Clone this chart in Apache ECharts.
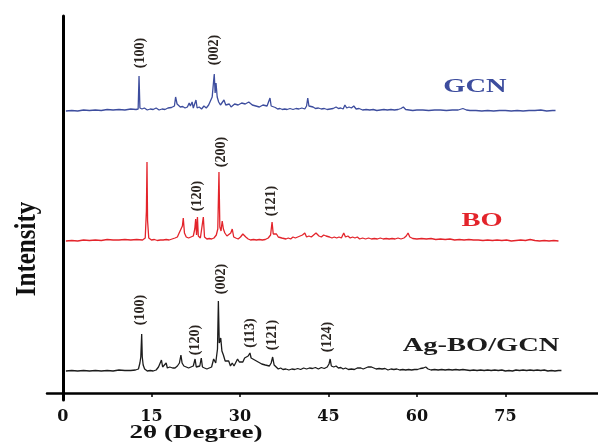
<!DOCTYPE html>
<html>
<head>
<meta charset="utf-8">
<script src="https://cdn.jsdelivr.net/npm/echarts@6/dist/echarts.min.js"></script>
<style>
  html, body { margin: 0; padding: 0; background: #fff; }
  #chart { width: 598px; height: 444px; }
</style>
</head>
<body>
<div id="chart"></div>
<script>
// x tick labels
var xTicks = [0, 15, 30, 45, 60, 75];

// patterns: [2theta, intensity above own baseline]
var gcnData = [
  [0.5,0],[1.5,0.5],[2.5,0],[3.5,1],[4.5,0.5],[5.5,1],[6.5,0.5],[7.5,1.5],[8.5,1],[9.5,1.5],[10.5,1],
  [11.5,2],[12.4,1.5],[12.75,2],[12.9,35],[13.05,3],[13.4,2],[13.8,3],[14.3,1],[14.8,2],[15.3,1.5],
  [15.8,3],[16.3,1],[16.8,2],[17.3,1.5],[17.8,3],[18.4,3.5],[18.9,5],[19.1,14],[19.35,7],[19.6,8],
  [19.9,4],[20.3,4.5],[20.7,3],[21.1,4],[21.4,8],[21.6,5],[21.9,9],[22.1,3],[22.3,4],[22.55,11],
  [22.75,3],[23.1,4],[23.5,2],[23.9,5],[24.3,3],[24.7,6],[25.0,5],[25.3,14],[25.5,12],[25.65,37],
  [25.8,18],[25.95,28],[26.15,14],[26.4,9],[26.7,6],[27.0,8],[27.3,11],[27.6,6],[27.9,5],[28.2,7],
  [28.5,4],[28.8,5],[29.1,7],[29.4,5],[29.7,6],[30.0,5],[30.3,8],[30.6,6],[30.9,7],[31.2,5],[31.5,9],
  [31.8,7],[32.1,6],[32.4,8],[32.7,5],[33.0,7],[33.3,4],[33.6,5],[33.9,6],[34.2,4],[34.6,5],[34.9,4],
  [35.1,13],[35.3,5],[35.6,3],[36.0,3.5],[36.4,2],[36.8,2.5],[37.2,1.5],[37.6,2],[38.0,1.5],[38.5,2.5],
  [39,1.5],[39.5,2.5],[40,2],[40.5,3],[41,2],[41.3,5],[41.5,13],[41.7,5],[42,3],[42.4,4],[42.8,2.5],
  [43.3,3],[43.8,2],[44.3,2.5],[44.8,1.5],[45.3,2],[45.8,2.5],[46.3,4],[46.7,2.5],[47.1,3],[47.5,2],
  [47.8,6],[48.1,3],[48.5,4],[48.9,3],[49.3,5],[49.7,2],[50.2,2.5],[50.8,1],[51.4,1.5],[52,1],
  [52.6,1.5],[53.2,0.5],[53.8,1],[54.4,1.5],[55,1],[55.6,1.5],[56.2,1],[56.8,1.5],[57.3,2.5],[57.7,4],
  [58.1,1.5],[58.7,1],[59.3,0.5],[60,1],[61,1],[62,0.5],[63,1],[64,1],[65,0.5],[66,1],[67,1],
  [67.8,2.5],[68.4,1],[69,0.5],[70,0.5],[71,0],[72,0.5],[73,0],[74,0.5],[75,0.5],[76,0],[77,0.5],
  [78,0],[79,0.5],[80,0.5],[81,1],[82,0],[83,0.5],[83.5,0.5]
];
var boData = [
  [0.5,0],[1.5,0.5],[2.5,0],[3.5,1],[4.5,0.5],[5.5,1],[6.5,0.5],[7.5,1.5],[8.5,1],[9.5,1],[10.5,1.5],
  [11.5,1],[12.5,1.5],[13.5,1],[13.95,3],[14.15,30],[14.25,79],[14.35,20],[14.55,3],[15,1],[15.5,1.5],
  [16,0.5],[16.5,1],[17,1],[17.5,1.5],[18,1],[18.5,2],[19,3],[19.4,4],[19.7,8],[20.0,6],[20.25,15],
  [20.4,23],[20.6,8],[20.9,4],[21.3,3],[21.7,4],[22.1,5],[22.35,12],[22.5,22],[22.65,6],[22.8,24],
  [22.95,5],[23.3,3],[23.6,5],[23.8,24],[24.0,4],[24.4,2],[24.8,2.5],[25.2,2],[25.6,3],[26.0,6],
  [26.25,12],[26.45,69],[26.6,14],[26.8,10],[27.0,20],[27.2,12],[27.45,8],[27.8,5],[28.1,4],[28.45,8],
  [28.7,12],[28.95,4],[29.3,3],[29.7,2],[30.1,4],[30.5,7],[30.7,8],[31,4],[31.4,2],[31.8,1],[32.3,1.5],
  [32.8,1],[33.3,1.5],[33.8,1],[34.3,1.5],[34.8,3],[35.2,6],[35.45,19],[35.65,7],[35.9,5],[36.2,7],
  [36.5,4],[36.8,6],[37.1,3],[37.4,4],[37.8,2],[38.2,3],[38.6,2],[39,4],[39.4,3],[39.8,4],[40.2,5],
  [40.6,6],[41.0,8],[41.3,4],[41.7,5],[42.1,4],[42.5,6],[42.9,8],[43.1,10],[43.4,5],[43.8,4],[44.2,6],
  [44.6,5],[44.9,7],[45.2,4],[45.6,3],[46,4],[46.4,3],[46.8,4],[47.2,3],[47.6,8],[47.9,4],[48.3,5],
  [48.7,3],[49.1,4],[49.5,3],[49.9,4],[50.3,2],[50.8,3],[51.3,2],[51.8,3],[52.3,2],[52.8,2.5],[53.3,2],
  [53.8,3],[54.3,2],[54.8,2.5],[55.3,2],[55.8,2.5],[56.3,2],[56.8,3],[57.3,2],[57.8,3],[58.2,5],
  [58.5,8],[58.8,4],[59.3,2.5],[60,2],[60.8,2.5],[61.6,2],[62.4,2.5],[63.2,1.5],[64,2],[64.8,1.5],
  [65.6,2],[66.4,1],[67.2,1.5],[68,1],[68.8,1.5],[69.6,1],[70.4,1],[71.2,0.5],[72,1],[72.8,0.5],
  [73.6,1],[74.4,0.5],[75.2,1],[76,0],[76.8,0.5],[77.6,1],[78.4,0.5],[79.2,1.5],[80,0.5],[80.8,0],
  [81.6,0.5],[82.4,0],[83.2,0.5],[84,0]
];
var agData = [
  [0.5,0],[1.5,0.5],[2.5,0],[3.5,0.5],[4.5,0],[5.5,0.5],[6.5,0],[7.5,0.5],[8.5,0],[9.5,1],[10.5,0.5],
  [11.5,0.5],[12.3,1],[12.8,2],[13.05,8],[13.2,14],[13.35,37],[13.45,14],[13.6,6],[13.85,2],[14.3,0],
  [14.8,0.5],[15.3,0],[15.8,1],[16.2,4],[16.5,5],[16.7,11],[16.9,4],[17.2,5],[17.5,8],[17.7,3],
  [18.1,4],[18.35,6],[18.6,3],[19.0,3],[19.4,5],[19.75,8],[20.0,16],[20.2,8],[20.5,5],[20.9,4],
  [21.3,3],[21.7,4],[22.1,5],[22.4,12],[22.6,4],[22.9,4],[23.2,5],[23.45,13],[23.65,4],[24,3],
  [24.4,2],[24.8,3],[25.2,4],[25.55,12],[25.9,8],[26.2,22],[26.35,70],[26.5,28],[26.75,33],[26.95,20],
  [27.2,16],[27.5,10],[27.8,8],[28.1,10],[28.4,5],[28.7,8],[29.0,5],[29.3,6],[29.6,12],[29.9,9],
  [30.2,11],[30.5,9],[30.8,13],[31.1,12],[31.4,15],[31.7,18],[31.9,13],[32.2,14],[32.5,11],[32.8,13],
  [33.1,9],[33.4,11],[33.7,7],[34,8],[34.3,6],[34.6,7],[35,5],[35.3,8],[35.55,14],[35.8,6],[36.1,4],
  [36.5,2],[36.9,3],[37.3,1.5],[37.8,2],[38.3,1],[38.8,2],[39.3,1.5],[39.8,2.5],[40.3,1.5],[40.8,3],
  [41.3,2],[41.8,3],[42.3,2.5],[42.8,3.5],[43.3,2],[43.8,3.5],[44.3,2.5],[44.8,4],[45.1,7],[45.3,12],
  [45.5,5],[45.9,4],[46.3,5],[46.7,3],[47.1,3.5],[47.5,2],[47.9,3],[48.4,1.5],[48.9,2],[49.4,1.5],
  [49.9,3],[50.2,5],[50.5,3],[50.9,2],[51.3,3],[51.7,4],[52.0,6],[52.3,4],[52.7,3],[53.1,2],[53.6,2.5],
  [54.1,2],[54.6,2.5],[55.1,1],[55.6,2],[56.1,1.5],[56.6,2],[57.1,1],[57.6,1.5],[58.1,1],[58.6,1.5],
  [59.1,1],[59.6,1.5],[60.1,1.5],[60.6,2.5],[61.1,3],[61.5,4],[61.9,2],[62.4,1],[63,1.5],[63.6,1],
  [64.2,1.5],[64.8,1],[65.4,1.5],[66,1],[66.6,1.5],[67.2,1],[67.8,1.5],[68.4,1],[69,0.5],[69.6,1],
  [70.2,0.5],[70.8,1],[71.4,0.5],[72,1],[72.6,0.5],[73.2,1],[73.8,0.5],[74.4,1],[75,0],[75.6,0.5],
  [76.2,0],[76.8,1],[77.4,0.5],[78,1],[78.6,0.5],[79.2,1],[79.8,0.5],[80.4,1],[81,0.5],[81.6,1],
  [82.2,0],[82.8,0.5],[83.4,0],[84,0.5],[84.5,0.5]
];

// stacking offsets for each pattern
var gcnOffset = 282;
var boOffset = 152;
var agOffset = 22;

// peak (hkl) labels: [2theta, height above axis, text]
var gcnPeaks = [[13.05,340,'(100)'],[25.7,343,'(002)']];
var boPeaks = [[22.8,197,'(120)'],[26.8,241,'(200)'],[35.4,192,'(121)']];
var agPeaks = [[13.2,83,'(100)'],[22.4,53,'(120)'],[26.9,114,'(002)'],[31.8,60,'(113)'],
  [35.5,58,'(121)'],[44.9,56,'(124)']];

var serif = 'Liberation Serif, Times New Roman, serif';

function shift(data, off) {
  return data.map(function (p) { return [p[0], p[1] + off]; });
}

function peakMarks(peaks) {
  return {
    symbol: 'circle',
    symbolSize: 0,
    silent: true,
    label: {
      show: true,
      position: 'inside',
      rotate: 90,
      formatter: '{b}',
      color: '#2a2420',
      fontFamily: serif,
      fontWeight: 'bold',
      fontSize: 14
    },
    data: peaks.map(function (p) { return { name: p[2], coord: [p[0], p[1]] }; })
  };
}

function pattern(name, data, off, color, peaks) {
  return {
    name: name,
    type: 'line',
    data: shift(data, off),
    symbol: 'none',
    lineStyle: { color: color, width: 1.3 },
    markPoint: peakMarks(peaks)
  };
}

function nameText(text, x, y, color) {
  return {
    type: 'text',
    x: x,
    y: y,
    scaleX: 1.5,
    style: {
      text: text,
      fill: color,
      font: 'bold 19px ' + serif,
      textAlign: 'center',
      textVerticalAlign: 'middle'
    }
  };
}

var chart = echarts.init(document.getElementById('chart'));

chart.setOption({
  animation: false,
  backgroundColor: '#fff',
  grid: { left: 47, right: 0, top: 16, bottom: 44 },
  xAxis: {
    type: 'value',
    min: -2.7,
    max: 90.7,
    splitLine: { show: false },
    axisLine: { onZero: true, lineStyle: { color: '#000', width: 2.5 } },
    axisTick: { customValues: xTicks, length: 4, lineStyle: { color: '#000', width: 1.5 } },
    axisLabel: {
      customValues: xTicks,
      margin: 9,
      color: '#111',
      fontFamily: 'DejaVu Serif',
      fontWeight: 'bold',
      fontSize: 16
    }
  },
  yAxis: {
    type: 'value',
    min: -7,
    max: 377,
    splitLine: { show: false },
    axisLine: { onZero: true, lineStyle: { color: '#000', width: 3 } },
    axisTick: { show: false },
    axisLabel: { show: false }
  },
  series: [
    pattern('GCN', gcnData, gcnOffset, '#3d4d9e', gcnPeaks),
    pattern('BO', boData, boOffset, '#e3242b', boPeaks),
    pattern('Ag-BO/GCN', agData, agOffset, '#1c1c1c', agPeaks)
  ],
  graphic: [
    nameText('GCN', 475, 87, '#3d4d9e'),
    nameText('BO', 482, 221, '#e3242b'),
    nameText('Ag-BO/GCN', 481, 346, '#1c1c1c'),
    {
      type: 'text',
      x: 196,
      y: 433,
      scaleX: 1.5,
      style: {
        text: '2θ (Degree)',
        fill: '#111',
        font: 'bold 18px ' + serif,
        textAlign: 'center',
        textVerticalAlign: 'middle'
      }
    },
    {
      type: 'text',
      x: 27,
      y: 249,
      rotation: Math.PI / 2,
      scaleY: 1.2,
      style: {
        text: 'Intensity',
        fill: '#111',
        font: 'bold 25px ' + serif,
        textAlign: 'center',
        textVerticalAlign: 'middle'
      }
    }
  ]
});
</script>
</body>
</html>
